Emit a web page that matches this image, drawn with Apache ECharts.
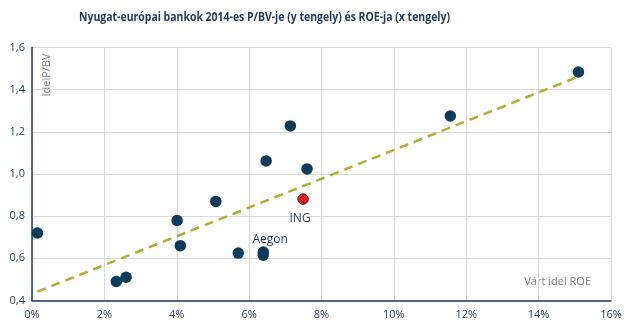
<!DOCTYPE html>
<html>
<head>
<meta charset="utf-8">
<script src="https://cdn.jsdelivr.net/npm/echarts@6/dist/echarts.min.js"></script>
<style>
  html, body { margin: 0; padding: 0; background: #fff; }
  #chart { width: 638px; height: 332px; }
</style>
</head>
<body>
<div id="chart"></div>
<script>
// Expected 2014 ROE (%) and P/BV of Western European banks
const roe  = [0.15, 2.33, 2.6, 4.01, 4.1, 5.08, 5.7, 6.39, 6.39, 6.47, 7.14, 7.6, 11.56, 15.1];
const pbv  = [0.72, 0.49, 0.51, 0.78, 0.66, 0.87, 0.625, 0.63, 0.615, 1.062, 1.228, 1.024, 1.275, 1.484];
const bankNames = ['', '', '', '', '', '', '', 'Aegon', '', '', '', '', '', ''];

// ING highlighted separately
const ingRoe = [7.49];
const ingPbv = [0.881];

// Linear trend endpoints
const trendRoe = [0.15, 15.1];
const trendPbv = [0.442, 1.462];

const xTicks = [0, 2, 4, 6, 8, 10, 12, 14, 16];
const yTicks = [0.4, 0.6, 0.8, 1.0, 1.2, 1.4, 1.6];

const titleText = 'Nyugat-európai bankok 2014-es P/BV-je (y tengely) és ROE-ja (x tengely)';

const navy = '#0d3b5c';
const textNavy = '#1f3a5f';

// Condense the title horizontally so it keeps a narrow look
const titleFont = 'bold 13px "Open Sans"';
const measureCtx = document.createElement('canvas').getContext('2d');
measureCtx.font = titleFont;
const titleScale = 371 / measureCtx.measureText(titleText).width;

const bankData = roe.map((x, i) => {
  const item = { value: [x, pbv[i]] };
  if (bankNames[i]) {
    item.label = {
      show: true, position: 'top', offset: [7, 4],
      formatter: bankNames[i], color: textNavy, fontSize: 12,
      fontFamily: 'Open Sans'
    };
  }
  return item;
});

const chart = echarts.init(document.getElementById('chart'), null, { renderer: 'canvas' });
chart.setOption({
  animation: false,
  grid: { left: 32, right: 27, top: 47.5, bottom: 31.5, containLabel: false },
  xAxis: {
    type: 'value', min: xTicks[0], max: xTicks[xTicks.length - 1], interval: 2,
    axisLine: { show: true, onZero: false, lineStyle: { color: textNavy, width: 1.5 } },
    axisTick: { show: false },
    splitLine: { show: true, lineStyle: { color: '#d9d9d9', width: 1 } },
    axisLabel: {
      formatter: v => v + '%', color: textNavy, fontSize: 11, margin: 9,
      fontFamily: 'Open Sans'
    }
  },
  yAxis: {
    type: 'value', min: yTicks[0], max: yTicks[yTicks.length - 1], interval: 0.2,
    axisLine: { show: true, onZero: false, lineStyle: { color: textNavy, width: 1.5 } },
    axisTick: { show: false },
    splitLine: { show: true, lineStyle: { color: '#d9d9d9', width: 1 } },
    axisLabel: {
      formatter: v => v.toFixed(1).replace('.', ','), color: textNavy, fontSize: 11, margin: 7,
      fontFamily: 'Open Sans'
    }
  },
  graphic: [
    {
      type: 'text', x: 264.5, y: 17, scaleX: titleScale,
      style: {
        text: titleText,
        fill: textNavy, fontSize: 13, fontWeight: 'bold', fontFamily: 'Open Sans',
        align: 'center', verticalAlign: 'middle'
      }
    },
    {
      type: 'text', x: 47, y: 75, rotation: Math.PI / 2,
      style: {
        text: 'IdeiP/BV', fill: '#808080', fontSize: 11, fontFamily: 'Open Sans',
        align: 'center', verticalAlign: 'middle'
      }
    },
    {
      type: 'text', right: 47, top: 276,
      style: { text: 'Várt idei ROE', fill: '#808080', fontSize: 11, fontFamily: 'Open Sans' }
    }
  ],
  series: [
    {
      type: 'line',
      data: trendRoe.map((x, i) => [x, trendPbv[i]]),
      symbol: 'none',
      lineStyle: { color: '#b3ad2e', width: 2.5, type: [9, 6] },
      z: 1
    },
    {
      type: 'scatter',
      data: bankData,
      symbolSize: 11.5,
      itemStyle: { color: navy, opacity: 1 },
      z: 3
    },
    {
      type: 'scatter',
      data: ingRoe.map((x, i) => [x, ingPbv[i]]),
      symbolSize: 10.5,
      itemStyle: { color: '#e3141b', borderColor: '#5a1a1a', borderWidth: 1, opacity: 1 },
      label: {
        show: true, position: 'bottom', offset: [-3, 3], formatter: 'ING',
        color: textNavy, fontSize: 12, fontFamily: 'Open Sans'
      },
      z: 4
    }
  ]
});
</script>
</body>
</html>
